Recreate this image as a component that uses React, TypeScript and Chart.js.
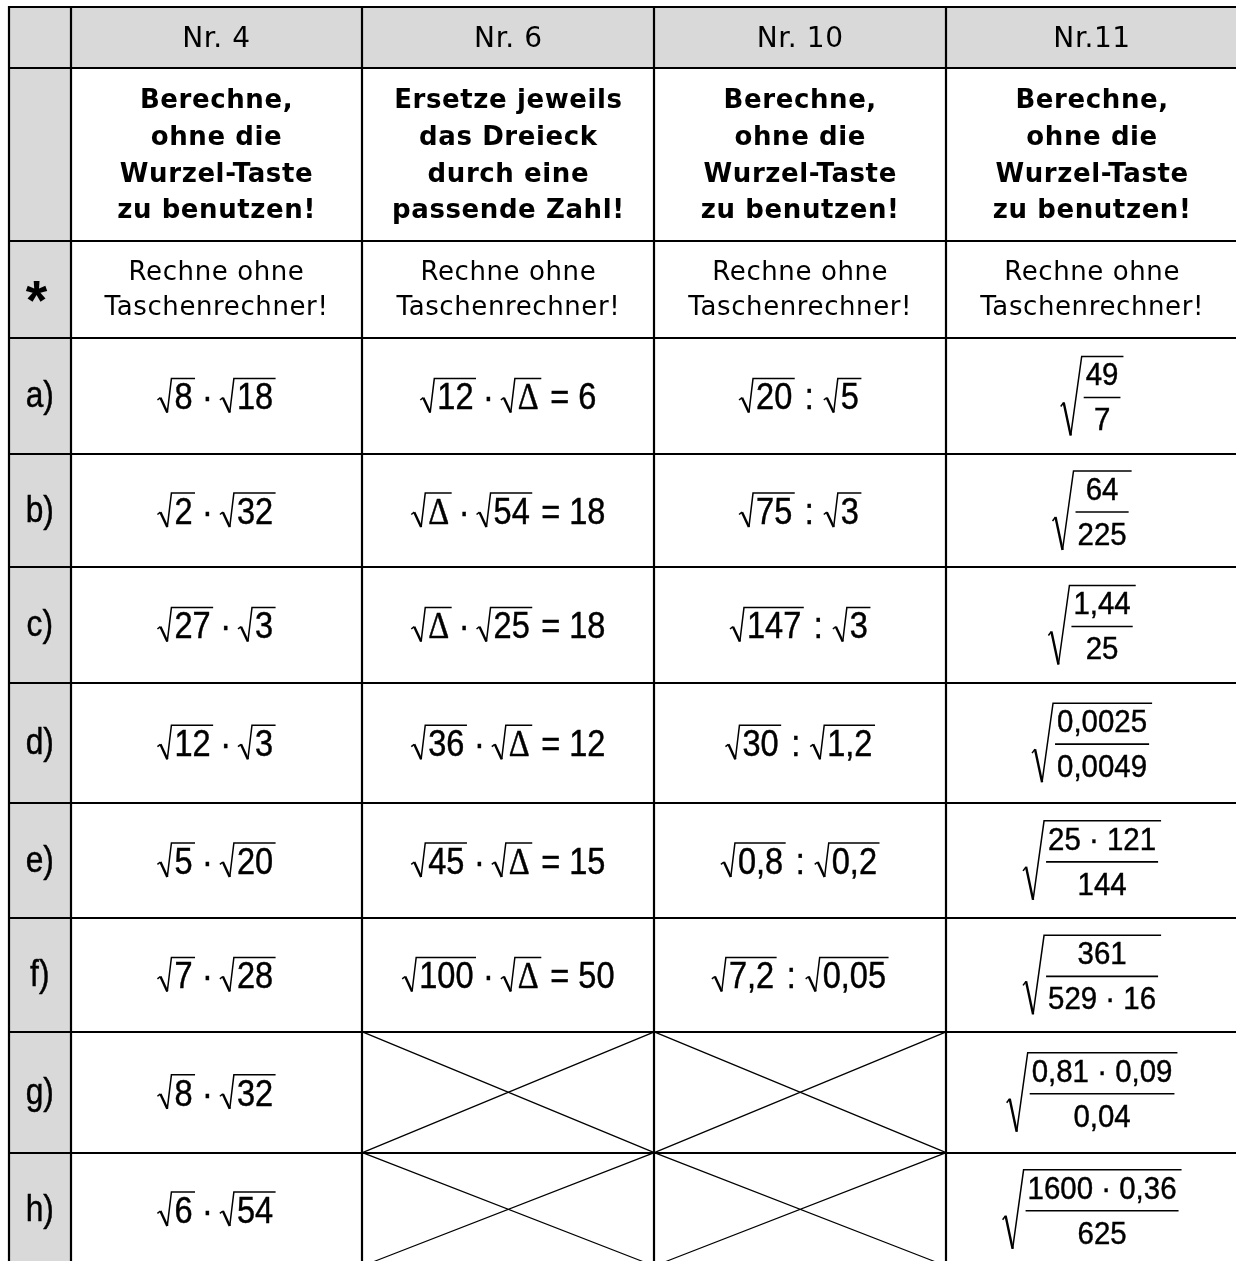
import React, { useEffect, useRef } from 'react';
import { Chart, registerables } from 'chart.js';

Chart.register(...registerables);

// ---------------- content ----------------
const columnHeaders = ['Nr. 4', 'Nr. 6', 'Nr. 10', 'Nr.11'];
const instructionNr4 = ['Berechne,', 'ohne die', 'Wurzel-Taste', 'zu benutzen!'];
const instructionNr6 = ['Ersetze jeweils', 'das Dreieck', 'durch eine', 'passende Zahl!'];
const instructionNr10 = ['Berechne,', 'ohne die', 'Wurzel-Taste', 'zu benutzen!'];
const instructionNr11 = ['Berechne,', 'ohne die', 'Wurzel-Taste', 'zu benutzen!'];
const hintMarker = '*';
const hintLines = ['Rechne ohne', 'Taschenrechner!'];
const rowLabels = ['a)', 'b)', 'c)', 'd)', 'e)', 'f)', 'g)', 'h)'];
const nr4Tasks = ['√8 · √18', '√2 · √32', '√27 · √3', '√12 · √3', '√5 · √20', '√7 · √28', '√8 · √32', '√6 · √54'];
const nr6Tasks: (string | null)[] = ['√12 · √Δ = 6', '√Δ · √54 = 18', '√Δ · √25 = 18', '√36 · √Δ = 12', '√45 · √Δ = 15', '√100 · √Δ = 50', null, null];
const nr10Tasks: (string | null)[] = ['√20 : √5', '√75 : √3', '√147 : √3', '√30 : √1,2', '√0,8 : √0,2', '√7,2 : √0,05', null, null];
const nr11Numerators = ['49', '64', '1,44', '0,0025', '25 · 121', '361', '0,81 · 0,09', '1600 · 0,36'];
const nr11Denominators = ['7', '225', '25', '0,0049', '144', '529 · 16', '0,04', '625'];

// ---------------- layout & style ----------------
const COL_WIDTHS = [0.211, 1, 1, 1, 1];
const ROW_HEIGHTS = [0.53, 1.5, 0.85, 1, 0.99, 1, 1.045, 1, 0.99, 1.05, 0.985];
const CANVAS_W = 1250;
const CANVAS_H = 1280;
const PADDING = { left: 9, top: 7, right: 12, bottom: 14 };
const GRAY = '#d9d9d9';
const INK = '#000000';
const TEXT_FONT = '"DejaVu Sans", Verdana, sans-serif';
const MATH_FONT = '"Liberation Sans", Arial, sans-serif';
const SERIF_FONT = '"Liberation Serif", "Times New Roman", serif';
const MATH_SIZE = 37;
const FRAC_SIZE = 32;
const LABEL_SIZE = 36;
const MATH_HS = 0.88;
const FRAC_HS = 0.92;
const MATH_WEIGHT = 0.45;
const ROOT_LEAD = 14;
const ROOT_GAP = 3;
const ROOT_TAIL = 2.5;
const OP_GAP: Record<string, number> = { '·': 7, ':': 10, '=': 9 };

function cumulative(a: number[]) {
  const e = [0];
  a.forEach((v) => e.push(e[e.length - 1] + v));
  return e;
}
const colEdges = cumulative(COL_WIDTHS);
const rowEdges = cumulative(ROW_HEIGHTS);

type Piece = { kind: 'root' | 'op' | 'text'; text: string };

function parseExpression(s: string): Piece[] {
  return s.split(' ').map((t) => {
    if (t.startsWith('√')) return { kind: 'root', text: t.slice(1) };
    if (t in OP_GAP) return { kind: 'op', text: t };
    return { kind: 'text', text: t };
  });
}

function runWidth(ctx: CanvasRenderingContext2D, text: string, size: number, hs: number) {
  let w = 0;
  for (const seg of text.split(/(Δ)/)) {
    if (!seg) continue;
    ctx.font = seg === 'Δ' ? `${size}px ${SERIF_FONT}` : `${size}px ${MATH_FONT}`;
    w += ctx.measureText(seg).width;
  }
  return w * hs;
}

function drawRun(ctx: CanvasRenderingContext2D, text: string, x: number, baseline: number, size: number, hs: number) {
  let cx = x;
  for (const seg of text.split(/(Δ)/)) {
    if (!seg) continue;
    ctx.font = seg === 'Δ' ? `${size}px ${SERIF_FONT}` : `${size}px ${MATH_FONT}`;
    const w = ctx.measureText(seg).width;
    ctx.save();
    ctx.translate(cx, baseline);
    ctx.scale(hs, 1);
    ctx.textAlign = 'left';
    ctx.textBaseline = 'alphabetic';
    ctx.fillStyle = INK;
    ctx.strokeStyle = INK;
    ctx.lineWidth = MATH_WEIGHT;
    ctx.fillText(seg, 0, 0);
    ctx.strokeText(seg, 0, 0);
    ctx.restore();
    cx += w * hs;
  }
}

function pieceWidth(ctx: CanvasRenderingContext2D, p: Piece) {
  const w = runWidth(ctx, p.text, MATH_SIZE, MATH_HS);
  if (p.kind === 'root') return ROOT_LEAD + ROOT_GAP + w + ROOT_TAIL;
  if (p.kind === 'op') return OP_GAP[p.text] * 2 + w;
  return w;
}

function drawInlineRoot(ctx: CanvasRenderingContext2D, x0: number, baseline: number, contentW: number) {
  const yTop = baseline - MATH_SIZE * 0.83;
  const yBot = baseline + MATH_SIZE * 0.09;
  const H = yBot - yTop;
  const tipX = x0 + 0.29 * H;
  ctx.save();
  ctx.strokeStyle = INK;
  ctx.lineCap = 'butt';
  ctx.lineJoin = 'miter';
  ctx.lineWidth = 1.5;
  ctx.beginPath();
  ctx.moveTo(x0, yTop + 0.63 * H);
  ctx.lineTo(x0 + 3, yTop + 0.56 * H);
  ctx.stroke();
  ctx.lineWidth = 2.4;
  ctx.beginPath();
  ctx.moveTo(x0 + 3, yTop + 0.56 * H);
  ctx.lineTo(tipX, yBot);
  ctx.stroke();
  ctx.lineWidth = 1.5;
  ctx.beginPath();
  ctx.moveTo(tipX, yBot);
  ctx.lineTo(x0 + ROOT_LEAD, yTop);
  ctx.lineTo(x0 + ROOT_LEAD + ROOT_GAP + contentW + ROOT_TAIL, yTop);
  ctx.stroke();
  ctx.restore();
}

function drawExpression(ctx: CanvasRenderingContext2D, expr: string, cx: number, baseline: number) {
  const pieces = parseExpression(expr);
  const widths = pieces.map((p) => pieceWidth(ctx, p));
  const total = widths.reduce((s, v) => s + v, 0);
  let x = cx - total / 2;
  pieces.forEach((p, i) => {
    if (p.kind === 'root') {
      const cw = runWidth(ctx, p.text, MATH_SIZE, MATH_HS);
      drawInlineRoot(ctx, x, baseline, cw);
      drawRun(ctx, p.text, x + ROOT_LEAD + ROOT_GAP, baseline, MATH_SIZE, MATH_HS);
    } else if (p.kind === 'op') {
      drawRun(ctx, p.text, x + OP_GAP[p.text], baseline, MATH_SIZE, MATH_HS);
    } else {
      drawRun(ctx, p.text, x, baseline, MATH_SIZE, MATH_HS);
    }
    x += widths[i];
  });
}

function drawRootFraction(ctx: CanvasRenderingContext2D, num: string, den: string, cx: number, barY: number) {
  const nw = runWidth(ctx, num, FRAC_SIZE, FRAC_HS);
  const dw = runWidth(ctx, den, FRAC_SIZE, FRAC_HS);
  const barW = Math.max(nw, dw) + 4;
  const lead = 21;
  const total = lead + 2 + barW + 3;
  const x0 = cx - total / 2;
  const yTop = barY - 41;
  const yBot = barY + 38;
  ctx.save();
  ctx.strokeStyle = INK;
  ctx.lineWidth = 1.5;
  ctx.beginPath();
  ctx.moveTo(x0, barY + 9);
  ctx.lineTo(x0 + 3, barY + 5);
  ctx.stroke();
  ctx.lineWidth = 2.4;
  ctx.beginPath();
  ctx.moveTo(x0 + 3, barY + 5);
  ctx.lineTo(x0 + 10, yBot);
  ctx.stroke();
  ctx.lineWidth = 1.5;
  ctx.beginPath();
  ctx.moveTo(x0 + 10, yBot);
  ctx.lineTo(x0 + lead, yTop);
  ctx.lineTo(x0 + total, yTop);
  ctx.stroke();
  ctx.lineWidth = 1.6;
  ctx.beginPath();
  ctx.moveTo(x0 + lead + 2, barY);
  ctx.lineTo(x0 + lead + 2 + barW, barY);
  ctx.stroke();
  ctx.restore();
  const fc = x0 + lead + 2 + barW / 2;
  drawRun(ctx, num, fc - nw / 2, barY - 12, FRAC_SIZE, FRAC_HS);
  drawRun(ctx, den, fc - dw / 2, barY + 33, FRAC_SIZE, FRAC_HS);
}

function drawTextLines(
  ctx: CanvasRenderingContext2D,
  lines: string[],
  cx: number,
  cy: number,
  font: string,
  lineHeight: number,
  capH: number,
  spacing: string,
  offset: number
) {
  ctx.save();
  ctx.font = font;
  (ctx as any).letterSpacing = spacing;
  ctx.textAlign = 'center';
  ctx.textBaseline = 'alphabetic';
  ctx.fillStyle = INK;
  const n = lines.length;
  lines.forEach((line, i) => {
    const b = cy + (i - (n - 1) / 2) * lineHeight + capH / 2 + offset;
    ctx.fillText(line, cx, b);
  });
  ctx.restore();
}

const tablePlugin = {
  id: 'worksheetTable',
  beforeDraw(chart: any) {
    const { ctx } = chart;
    const x = chart.scales.x;
    const y = chart.scales.y;
    const px = (v: number) => x.getPixelForValue(v);
    const py = (v: number) => y.getPixelForValue(v);
    ctx.save();
    ctx.fillStyle = '#ffffff';
    ctx.fillRect(0, 0, chart.width, chart.height);
    ctx.fillStyle = GRAY;
    const xl = px(colEdges[0]);
    const xr = px(colEdges[colEdges.length - 1]);
    ctx.fillRect(xl, py(rowEdges[0]), xr - xl, py(rowEdges[1]) - py(rowEdges[0]));
    ctx.fillRect(xl, py(rowEdges[0]), px(colEdges[1]) - xl, py(rowEdges[rowEdges.length - 1]) - py(rowEdges[0]));
    ctx.restore();
  },
  afterDraw(chart: any) {
    const { ctx } = chart;
    const x = chart.scales.x;
    const y = chart.scales.y;
    const px = (v: number) => x.getPixelForValue(v);
    const py = (v: number) => y.getPixelForValue(v);
    const xl = px(colEdges[0]);
    const xr = px(colEdges[colEdges.length - 1]);
    const yt = py(rowEdges[0]);
    const yb = py(rowEdges[rowEdges.length - 1]);
    const colCenter = (c: number) => (px(colEdges[c]) + px(colEdges[c + 1])) / 2;
    const rowCenter = (r: number) => (py(rowEdges[r]) + py(rowEdges[r + 1])) / 2;

    // crossed-out (empty) cells
    ctx.save();
    ctx.strokeStyle = INK;
    ctx.lineWidth = 1.3;
    [nr6Tasks, nr10Tasks].forEach((tasks, k) => {
      const c = 2 + k;
      tasks.forEach((t, i) => {
        if (t !== null) return;
        const r = 3 + i;
        const x1 = px(colEdges[c]);
        const x2 = px(colEdges[c + 1]);
        const y1 = py(rowEdges[r]);
        const y2 = py(rowEdges[r + 1]);
        ctx.beginPath();
        ctx.moveTo(x1, y1);
        ctx.lineTo(x2, y2);
        ctx.moveTo(x1, y2);
        ctx.lineTo(x2, y1);
        ctx.stroke();
      });
    });
    ctx.restore();

    // grid lines
    ctx.save();
    ctx.strokeStyle = '#000000';
    ctx.lineWidth = 2.2;
    ctx.beginPath();
    colEdges.forEach((e) => {
      const p = Math.round(px(e));
      ctx.moveTo(p, yt - 1);
      ctx.lineTo(p, yb + 1);
    });
    rowEdges.forEach((e) => {
      const p = Math.round(py(e));
      ctx.moveTo(xl - 1, p);
      ctx.lineTo(xr + 1, p);
    });
    ctx.stroke();
    ctx.restore();

    // header row
    columnHeaders.forEach((h, i) => {
      drawTextLines(ctx, [h], colCenter(1 + i), rowCenter(0), `28px ${TEXT_FONT}`, 0, 20.4, '0.6px', -1);
    });
    // instruction row
    [instructionNr4, instructionNr6, instructionNr10, instructionNr11].forEach((lines, i) => {
      drawTextLines(ctx, lines, colCenter(1 + i), rowCenter(1), `bold 26px ${TEXT_FONT}`, 36.7, 19, '0.6px', -0.5);
    });
    // hint row
    columnHeaders.forEach((_, i) => {
      drawTextLines(ctx, hintLines, colCenter(1 + i), rowCenter(2), `26px ${TEXT_FONT}`, 35, 19, '0.6px', -1.5);
    });
    // hint marker
    ctx.save();
    ctx.fillStyle = INK;
    const markerFont = '"Liberation Sans", Arial, sans-serif';
    ctx.font = `bold 100px ${markerFont}`;
    const m = ctx.measureText(hintMarker);
    const h100 = m.actualBoundingBoxAscent + m.actualBoundingBoxDescent;
    const size = (100 * 21) / h100;
    ctx.font = `bold ${size}px ${markerFont}`;
    const m2 = ctx.measureText(hintMarker);
    ctx.textAlign = 'left';
    ctx.textBaseline = 'alphabetic';
    const tcx = colCenter(0) - 3;
    const tcy = rowCenter(2) + 2;
    const bx = tcx - (m2.actualBoundingBoxRight - m2.actualBoundingBoxLeft) / 2;
    const by = tcy - (m2.actualBoundingBoxDescent - m2.actualBoundingBoxAscent) / 2;
    ctx.fillText(hintMarker, bx, by);
    ctx.restore();

    // task rows
    ctx.save();
    ctx.fillStyle = INK;
    rowLabels.forEach((label, i) => {
      const r = 3 + i;
      const cy = rowCenter(r);
      const lw = runWidth(ctx, label, LABEL_SIZE, MATH_HS);
      drawRun(ctx, label, colCenter(0) - lw / 2, cy + 11.5, LABEL_SIZE, MATH_HS);
      drawExpression(ctx, nr4Tasks[i], colCenter(1), cy + 13.3);
      const t6 = nr6Tasks[i];
      if (t6) drawExpression(ctx, t6, colCenter(2), cy + 13.3);
      const t10 = nr10Tasks[i];
      if (t10) drawExpression(ctx, t10, colCenter(3), cy + 13.3);
      drawRootFraction(ctx, nr11Numerators[i], nr11Denominators[i], colCenter(4), cy + 1.5);
    });
    ctx.restore();
  },
};

export default function App() {
  const canvasRef = useRef<HTMLCanvasElement | null>(null);
  useEffect(() => {
    const canvas = canvasRef.current;
    if (!canvas) return;
    const chart = new Chart(canvas, {
      type: 'scatter',
      data: { datasets: [{ data: [], showLine: false }] },
      options: {
        responsive: false,
        animation: false,
        events: [],
        devicePixelRatio: 1,
        layout: { padding: PADDING },
        plugins: { legend: { display: false }, tooltip: { enabled: false } },
        scales: {
          x: { type: 'linear', display: false, min: 0, max: colEdges[colEdges.length - 1] },
          y: { type: 'linear', display: false, min: 0, max: rowEdges[rowEdges.length - 1], reverse: true },
        },
      },
      plugins: [tablePlugin],
    } as any);
    return () => chart.destroy();
  }, []);
  return (
    <div
      style={{
        position: 'absolute',
        left: 0,
        top: 0,
        width: 1236,
        height: 1261,
        overflow: 'hidden',
        background: '#ffffff',
      }}
    >
      <canvas
        ref={canvasRef}
        width={CANVAS_W}
        height={CANVAS_H}
        style={{ display: 'block', width: CANVAS_W, height: CANVAS_H }}
      />
    </div>
  );
}
